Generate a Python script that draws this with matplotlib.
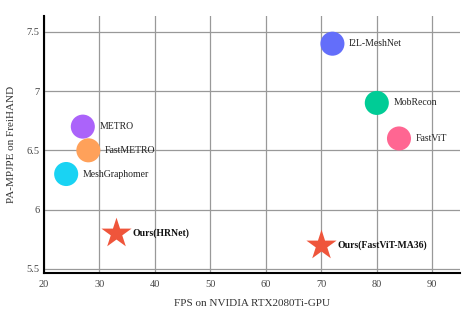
import matplotlib.pyplot as plt

methods = ['METRO', 'FastMETRO', 'MeshGraphomer', 'I2L-MeshNet', 'MobRecon', 'FastViT']
fps = [27, 28, 24, 72, 80, 84]
pampjpe = [6.7, 6.5, 6.3, 7.4, 6.9, 6.6]
colors = ['#AB63FA', '#FFA15A', '#19D3F3', '#636EFA', '#00CC96', '#FF6692']

ours = ['Ours(HRNet)', 'Ours(FastViT-MA36)']
ours_fps = [33, 70]
ours_pampjpe = [5.8, 5.7]

plt.rcParams['font.family'] = ['Liberation Serif', 'DejaVu Serif']

fig = plt.figure(figsize=(4.76, 3.17), dpi=100)
ax = fig.add_axes([0.0924, 0.139, 0.874, 0.811])

ax.scatter(fps, pampjpe, s=300, c=colors, zorder=3, linewidths=0)
ax.scatter(ours_fps, ours_pampjpe, s=520, c='#EF553B', marker='*', zorder=3, linewidths=0)

for name, x, y in zip(methods, fps, pampjpe):
    ax.annotate(name, (x, y), xytext=(12, 0), textcoords='offset points',
                va='center', fontsize=7, color='#222222')
for name, x, y in zip(ours, ours_fps, ours_pampjpe):
    ax.annotate(name, (x, y), xytext=(11.5, 0), textcoords='offset points',
                va='center', fontsize=7, fontweight='bold', color='#111111')

ax.set_xlim(20, 95)
ax.set_ylim(5.465, 7.635)
ax.set_xticks([20, 30, 40, 50, 60, 70, 80, 90])
ax.set_yticks([5.5, 6, 6.5, 7, 7.5])
ax.set_yticklabels(['5.5', '6', '6.5', '7', '7.5'])
ax.grid(True, color='#999999', linewidth=0.9)
ax.set_axisbelow(True)
ax.tick_params(length=0, labelsize=7.5, colors='#444444')
ax.tick_params(axis='y', pad=3)
ax.tick_params(axis='x', pad=5)

for side in ['top', 'right']:
    ax.spines[side].set_visible(False)
for side in ['left', 'bottom']:
    ax.spines[side].set_linewidth(1.5)
    ax.spines[side].set_color('black')

ax.set_xlabel('FPS on NVIDIA RTX2080Ti-GPU', fontsize=8, color='#333333')
ax.set_ylabel('PA-MPJPE on FreiHAND', fontsize=8, color='#333333')
ax.xaxis.set_label_coords(0.5, -0.117)
ax.yaxis.set_label_coords(-0.077, 0.5)
ax.xaxis.label.set_va('center')
ax.yaxis.label.set_va('center')

fig.savefig('out.png', dpi=100)
